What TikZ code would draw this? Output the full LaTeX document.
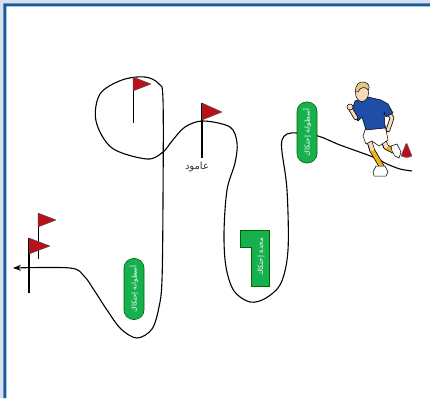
\documentclass[tikz,border=0pt]{standalone}
\usepackage{fontspec}
\newfontfamily\arabicfont[Script=Arabic]{DejaVu Sans}
\TeXXeTstate=1
\usetikzlibrary{arrows.meta}
\definecolor{frameblue}{RGB}{24,90,158}
\definecolor{framegray}{RGB}{214,224,238}
\definecolor{padgreen}{RGB}{22,176,78}
\definecolor{flagred}{RGB}{182,18,28}
\definecolor{shirtblue}{RGB}{30,78,168}
\definecolor{skin}{RGB}{250,216,188}
\definecolor{hair}{RGB}{226,200,130}
\definecolor{sock}{RGB}{240,176,24}
\begin{document}
\begin{tikzpicture}[x=1pt,y=-1pt,
  route/.style={draw=black,line width=1.1pt},
  pole/.style={draw=black,line width=#1},
  cloth/.style={fill=flagred,draw=black!70,line width=0.4pt,line join=round},
  cyl/.style={fill=padgreen,draw=black!60!green,line width=0.6pt,rounded corners=9.5pt,minimum width=61pt,minimum height=20pt,inner sep=0pt,rotate=90,text=white,font=\arabicfont\fontsize{7}{7}\selectfont},
  lbl/.style={text=black!80,font=\arabicfont\fontsize{10}{10}\selectfont},
  limb/.style={line width=#1,line cap=round,line join=round}]
\useasboundingbox (0,0) rectangle (430,398);
\fill[framegray] (0,0) rectangle (430,3.3) (0,0) rectangle (3.3,398);
\fill[frameblue] (3.3,3.3) rectangle (430,6.3) (3.3,3.3) rectangle (6.3,398);
% the running line, from the start by the cone to the arrow
\coordinate (start) at (412,171);
\coordinate (goal) at (13,268);
\draw[route,-{Stealth[length=8pt,width=6pt]}] plot[smooth,tension=0.55] coordinates {
  (start) (400,169) (387,164) (373,157) (340,145) (318,136) (297,133)
  (287,134) (282,140) (282,152) (287,190) (288,250) (281,283) (266,298)
  (250,302) (234,291) (226,267) (224,233) (227,190) (235,163) (237,143)
  (230,127) (203,121) (185,127) (172,141) (163,152) (147,159) (112,148)
  (96,121) (100,94) (122,80) (145,77) (159,84) (163,100) (163,200)
  (162,280) (159,307) (152,329) (137,338) (121,329) (107,310) (94,290)
  (84,276) (70,268) (goal)};
% flags
\draw[pole=1pt] (133,77) -- (133,123);
\draw[cloth] (133,77) -- (151,84) -- (133,91) -- cycle;
\draw[pole=1.8pt] (202,103) -- (202,158);
\draw[cloth] (202,103) -- (222,112) -- (202,120) -- cycle;
\node[lbl] (pole) at (197,167) {\beginR عامود\endR};
\draw[pole=1pt] (38,213) -- (38,259);
\draw[cloth] (38,213) -- (56,220) -- (38,227) -- cycle;
\draw[pole=1.8pt] (29,238) -- (29,293);
\draw[cloth] (29,238) -- (50,246) -- (29,254) -- cycle;
% cylinders and pad
\node[cyl] (cylL) at (134,289) {\beginR أسطوانة إحتكاك\endR};
\node[cyl] (cylR) at (307,132.5) {\beginR أسطوانة إحتكاك\endR};
\draw[fill=padgreen,draw=black!60!green,line width=0.6pt] (240.5,230.5) -- (269.5,230.5) -- (269.5,286.5) -- (251.5,286.5) -- (251.5,247) -- (240.5,247) -- cycle;
\node[text=white,rotate=90,inner sep=0pt,font=\arabicfont\fontsize{7}{7}\selectfont] (pad) at (261,257) {\beginR مخدة إحتكاك\endR};
% cone
\draw[fill=flagred,draw=black!60,line width=0.4pt] (401,156) .. controls (403,150) .. (406,143.5) -- (407,143.5) .. controls (410,150) .. (412,156) .. controls (407,158) .. (401,156);
% runner
\draw[limb=5.5pt,black] (384,142) -- (386,147) -- (394,151);
\draw[limb=4pt,sock] (386,147) -- (394,151);
\draw[limb=4pt,skin] (384,142) -- (386,146);
\draw[fill=white,draw=black,line width=0.5pt] (391,146) -- (397,144) -- (401,152) -- (399,158) -- (395,156) -- (392,151) -- cycle;
\draw[limb=5.5pt,black] (369,140) -- (372,150) -- (382,167);
\draw[limb=4pt,sock] (372,150) -- (382,167);
\draw[limb=4pt,skin] (369,140) -- (372,149);
\draw[fill=white,draw=black,line width=0.5pt] (376,166) -- (385,166) -- (388,172) -- (386,176) -- (374,176) -- (373,172) -- cycle;
\draw[fill=white,draw=black,line width=0.5pt] (366,127) -- (385,125) -- (388,140) -- (379,146) -- (372,141) -- (366,144) -- (363,136) -- cycle;
\draw[limb=4.5pt,black] (384,106) -- (392,118) -- (388,130);
\draw[limb=3pt,skin] (384,106) -- (392,118) -- (388,130);
\draw[fill=shirtblue,draw=black,line width=0.5pt,line join=round] (355,101) -- (368,97) -- (381,100) -- (388,104) -- (393,113) -- (386,117) -- (384,112) -- (385,128) -- (366,130) -- (362,117) -- (358,121) -- (351,113) -- cycle;
\draw[limb=4.5pt,black] (356,118) -- (350,108);
\draw[limb=3pt,skin] (356,118) -- (350,108);
\fill[skin,draw=black,line width=0.5pt] (350,107) circle (3pt);
\draw[fill=skin,draw=black,line width=0.5pt] (362,93) ellipse (6.5pt and 8.5pt);
\draw[fill=hair,draw=black,line width=0.5pt] (355.5,92) .. controls (355,84) and (360,81) .. (364,82) .. controls (369,83) and (370,87) .. (368.5,90) .. controls (365,86) and (360,87) .. (358,92) -- cycle;
\end{tikzpicture}
\end{document}
